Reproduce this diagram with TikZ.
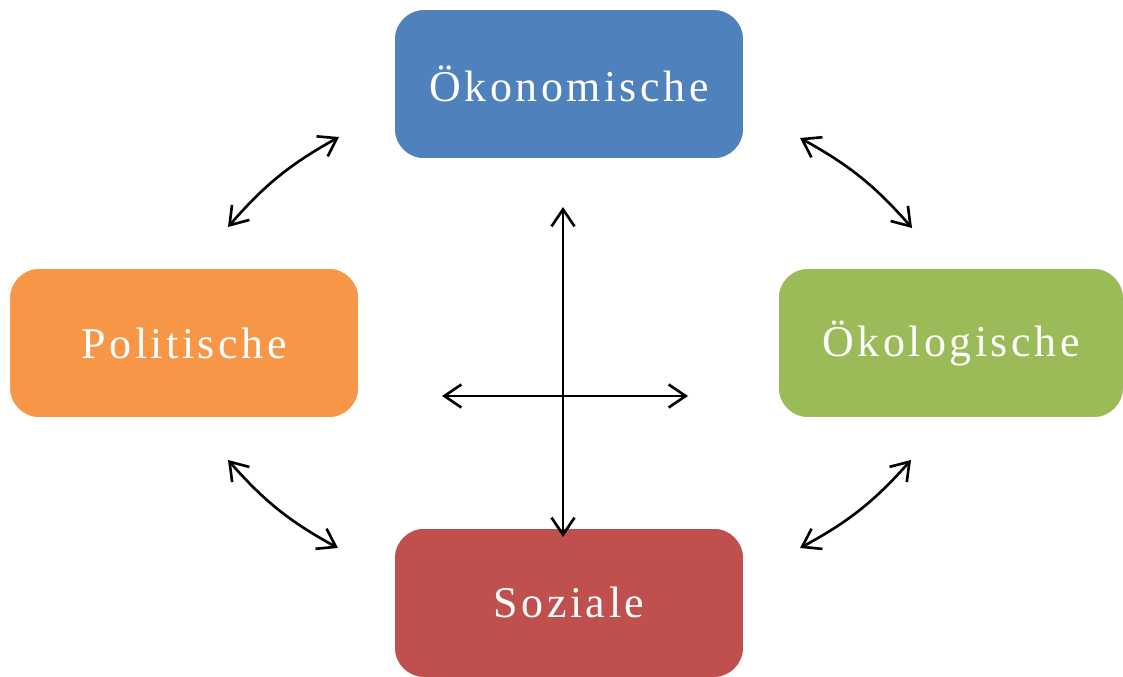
\documentclass[tikz,border=0pt]{standalone}
\usepackage{fontspec}
\usetikzlibrary{arrows.meta,positioning}
\newfontfamily\boxfont[LetterSpace=8]{Liberation Serif}
\definecolor{oekoblue}{HTML}{4F81BD}
\definecolor{polorange}{HTML}{F79646}
\definecolor{oekogreen}{HTML}{9BBB59}
\definecolor{sozred}{HTML}{C0504D}
\tikzset{
  dimbox/.style={draw=white,line width=1pt,rounded corners=6mm,minimum width=7cm,minimum height=3cm,inner sep=0pt,text=white,font=\boxfont\fontsize{25}{28}\selectfont},
  oekobox/.style={dimbox,fill=oekoblue},
  polbox/.style={dimbox,fill=polorange},
  umweltbox/.style={dimbox,fill=oekogreen,minimum width=6.92cm},
  sozbox/.style={dimbox,fill=sozred},
  link/.style={{Straight Barb[length=3.4mm,width=4.6mm]}-{Straight Barb[length=3.4mm,width=4.6mm]},line width=1.5pt,draw=black}
}
\begin{document}
\begin{tikzpicture}
  \useasboundingbox (0,0) rectangle (22.46,-13.54);
  \coordinate (mitte) at (11.38,-6.86);

  \node[oekobox,above=3.66cm of mitte] (oekonomie) {Ökonomische};
  \node[sozbox,below=3.68cm of mitte] (soziales) {Soziale};
  \node[polbox,left=4.18cm of mitte] (politik) {Politische};
  \node[umweltbox,right=4.16cm of mitte] (umwelt) {Ökologische};

  % free ends of the connectors
  \coordinate (vo) at (11.26,-4.14);
  \coordinate (vu) at (11.26,-10.74);
  \coordinate (hl) at (8.84,-7.92);
  \coordinate (hr) at (13.76,-7.92);
  \coordinate (olA) at (4.56,-4.54);
  \coordinate (olB) at (6.78,-2.74);
  \coordinate (orA) at (16.0,-2.76);
  \coordinate (orB) at (18.24,-4.56);
  \coordinate (ulA) at (4.56,-9.2);
  \coordinate (ulB) at (6.76,-10.96);
  \coordinate (urA) at (16.0,-10.96);
  \coordinate (urB) at (18.22,-9.2);

  \draw[link] (vo) -- (vu);
  \draw[link] (hl) -- (hr);
  \draw[link] (olA) to[bend left=10] (olB);
  \draw[link] (orA) to[bend left=10] (orB);
  \draw[link] (ulA) to[bend right=10] (ulB);
  \draw[link] (urA) to[bend right=10] (urB);
\end{tikzpicture}
\end{document}
